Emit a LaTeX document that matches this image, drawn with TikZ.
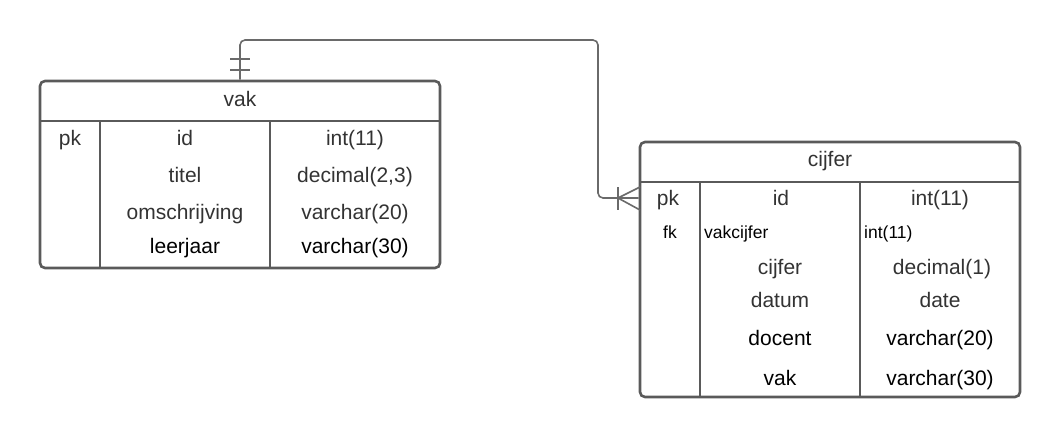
\documentclass[tikz,border=0pt]{standalone}
\usepackage{fontspec}
\setmainfont{Liberation Sans}
\begin{document}
\begin{tikzpicture}[x=1pt,y=-1pt,
  frame/.style={draw=tabline,line width=2.6pt,rounded corners=5pt,rectangle,inner sep=0pt},
  divider/.style={draw=tabline,line width=2.6pt},
  link/.style={draw=linkgray,line width=1.6pt},
  big/.style={font=\fontsize{21}{25}\selectfont,inner sep=0pt,anchor=base},
  small/.style={font=\fontsize{17.5}{21}\selectfont,inner sep=0pt,anchor=base},
  dark/.style={text=textdark},
  blk/.style={text=black}]
\definecolor{tabline}{HTML}{5A5A5A}
\definecolor{linkgray}{HTML}{6A6A6A}
\definecolor{textdark}{HTML}{333333}
\useasboundingbox (0,0) rectangle (1060,439);

% ---- table vak ----
\node[frame,minimum width=400pt,minimum height=187pt] (vak) at (240,174.5) {};
\draw[divider] (40,121) -- (440,121);
\draw[divider] (100,121) -- (100,268);
\draw[divider] (270,121) -- (270,268);
\node[big,dark] (vakT) at (240,106) {vak};
\node[big,dark] (v1a) at (70,145) {pk};
\node[big,dark] (v1b) at (185,145) {id};
\node[big,dark] (v1c) at (355,145) {int(11)};
\node[big,dark] (v2b) at (185,182) {titel};
\node[big,dark] (v2c) at (355,182) {decimal(2,3)};
\node[big,dark] (v3b) at (185,219) {omschrijving};
\node[big,dark] (v3c) at (355,219) {varchar(20)};
\node[big,blk] (v4b) at (185,253) {leerjaar};
\node[big,blk] (v4c) at (355,253) {varchar(30)};

% ---- table cijfer ----
\node[frame,minimum width=380pt,minimum height=255pt] (cij) at (830,269.5) {};
\draw[divider] (640,182) -- (1020,182);
\draw[divider] (700,182) -- (700,397);
\draw[divider] (860,182) -- (860,397);
\node[big,dark] (cijT) at (830,166) {cijfer};
\node[big,dark] (c1a) at (668,205) {pk};
\node[big,dark] (c1b) at (781,205) {id};
\node[big,dark] (c1c) at (940,205) {int(11)};
\node[small,blk] (c2a) at (670,238) {fk};
\node[small,blk,anchor=base west] (c2b) at (704,238) {vakcijfer};
\node[small,blk,anchor=base west] (c2c) at (864,238) {int(11)};
\node[big,dark] (c3b) at (780,274) {cijfer};
\node[big,dark] (c3c) at (942,274) {decimal(1)};
\node[big,dark] (c4b) at (780,307) {datum};
\node[big,dark] (c4c) at (940,307) {date};
\node[big,blk] (c5b) at (780,345) {docent};
\node[big,blk] (c5c) at (940,345) {varchar(20)};
\node[big,blk] (c6b) at (780,385) {vak};
\node[big,blk] (c6c) at (940,385) {varchar(30)};

% ---- relation vak 1 -- n cijfer ----
\coordinate (relA) at (vak.north west -| 240,0);
\coordinate (relB) at (cij.west |- 0,198);
\draw[link,rounded corners=5pt] (relA) -- (240,40) -- (598,40) |- (relB);
% one and only one
\draw[link] (230,59) -- (250,59);
\draw[link] (230,70) -- (250,70);
% many
\draw[link] (618,187) -- (618,210);
\draw[link] (618,198) -- (640,187);
\draw[link] (618,198) -- (640,210);
\end{tikzpicture}
\end{document}
